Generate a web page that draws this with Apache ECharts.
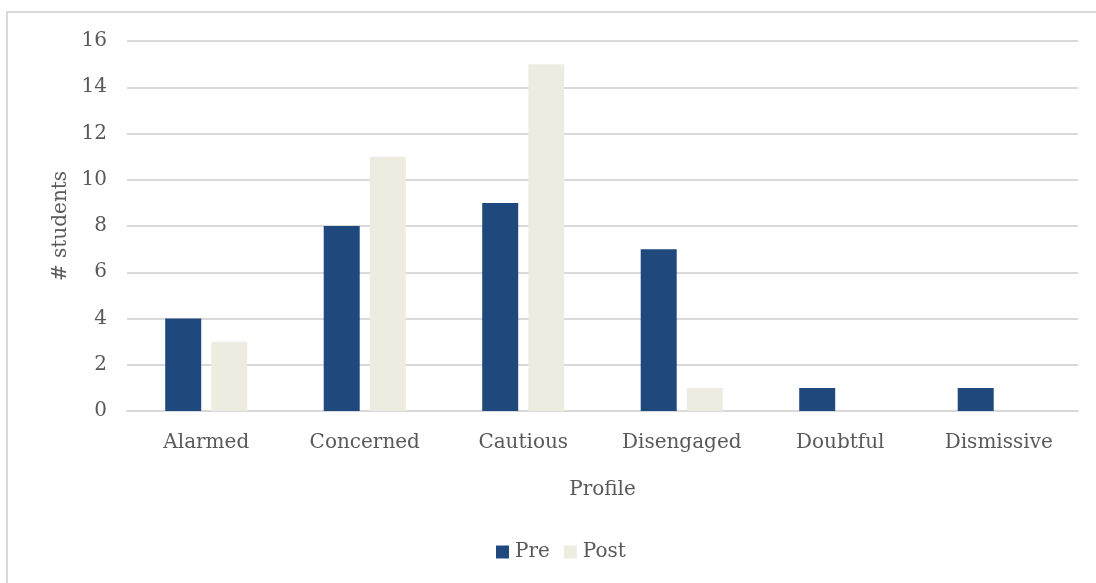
<!DOCTYPE html>
<html>
<head>
<meta charset="UTF-8">
<title>Profiles</title>
<script src="https://cdn.jsdelivr.net/npm/echarts@6/dist/echarts.min.js"></script>
<style>
    html, body { margin: 0; padding: 0; background: #fff; overflow: hidden; }
    #frame {
        position: absolute; left: 6px; top: 11px;
        width: 1200px; height: 700px;
        border: 2px solid #d9d9d9;
    }
    #chart { position: absolute; left: 0; top: 0; width: 1096px; height: 583px; }
</style>
</head>
<body>
<div id="frame"></div>
<div id="chart"></div>
<script>
    // data
    const profiles = ['Alarmed', 'Concerned', 'Cautious', 'Disengaged', 'Doubtful', 'Dismissive'];
    const preCounts = [4, 8, 9, 7, 1, 1];
    const postCounts = [3, 11, 15, 1, 0, 0];

    const font = 'DejaVu Serif';
    const textColor = '#595959';

    const chart = echarts.init(document.getElementById('chart'));
    chart.setOption({
        animation: false,
        textStyle: { fontFamily: font },
        grid: { left: 127, right: 18, top: 41, bottom: 172 },
        legend: {
            top: 537,
            left: 491,
            itemWidth: 13,
            itemHeight: 13,
            itemGap: 14,
            icon: 'rect',
            textStyle: { fontFamily: font, fontSize: 20, color: textColor, padding: [0, 0, 0, 1] },
            data: ['Pre', 'Post']
        },
        xAxis: {
            type: 'category',
            data: profiles,
            name: 'Profile',
            nameLocation: 'middle',
            nameGap: 69,
            nameTextStyle: { fontFamily: font, fontSize: 20, color: textColor },
            axisLine: { lineStyle: { color: '#d9d9d9', width: 2 } },
            axisTick: { show: false },
            axisLabel: { fontFamily: font, fontSize: 20, color: textColor, margin: 22 }
        },
        yAxis: {
            type: 'value',
            min: 0,
            max: 16,
            interval: 2,
            name: '# students',
            nameLocation: 'middle',
            nameGap: 54,
            nameTextStyle: { fontFamily: font, fontSize: 20, color: textColor },
            axisLine: { show: false },
            axisTick: { show: false },
            axisLabel: { fontFamily: font, fontSize: 20, color: textColor, margin: 20 },
            splitLine: { lineStyle: { color: '#d9d9d9', width: 2 } }
        },
        series: [
            {
                name: 'Pre',
                type: 'bar',
                data: preCounts,
                barWidth: 36,
                barGap: '28%',
                itemStyle: { color: '#1f497d' }
            },
            {
                name: 'Post',
                type: 'bar',
                data: postCounts,
                barWidth: 36,
                itemStyle: { color: '#eeece1' }
            }
        ]
    });
</script>
</body>
</html>
